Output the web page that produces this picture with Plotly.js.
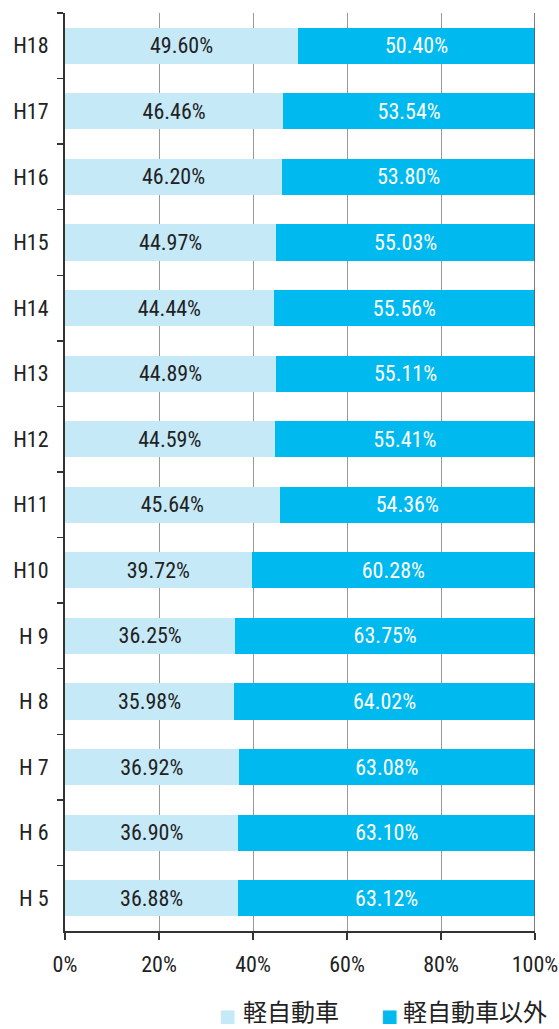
<!DOCTYPE html>
<html><head><meta charset="utf-8">
<script src="https://cdn.plot.ly/plotly-3.0.1.min.js"></script>
<style>html,body{margin:0;padding:0;background:#fff}#c{width:559px;height:1029px}</style>
</head><body><div id="c"></div>
<script>
const categories = ["H18","H17","H16","H15","H14","H13","H12","H11","H10","H 9","H 8","H 7","H 6","H 5"];
const keiValues = [49.60,46.46,46.20,44.97,44.44,44.89,44.59,45.64,39.72,36.25,35.98,36.92,36.90,36.88];
const otherValues = [50.40,53.54,53.80,55.03,55.56,55.11,55.41,54.36,60.28,63.75,64.02,63.08,63.10,63.12];
const seriesNames = ["軽自動車","軽自動車以外"];
const seriesColors = ["#c6e9f8","#00b9ef"];
const xTicks = [0,20,40,60,80,100];
const xTickLabels = ["0%","20%","40%","60%","80%","100%"];

const numFont = "Roboto Condensed, sans-serif";
const cjkFont = "Noto Sans CJK JP, sans-serif";

const traces = [
  {type:'bar', orientation:'h', name:seriesNames[0], y:categories, x:keiValues,
   marker:{color:seriesColors[0]}, width:0.55,
   texttemplate:'%{x:.2f}%', textposition:'inside', insidetextanchor:'middle',
   textfont:{family:numFont, size:22, color:'#222'}, hoverinfo:'none'},
  {type:'bar', orientation:'h', name:seriesNames[1], y:categories, x:otherValues,
   marker:{color:seriesColors[1]}, width:0.55,
   texttemplate:'%{x:.2f}%', textposition:'inside', insidetextanchor:'middle',
   textfont:{family:numFont, size:22, color:'#fff'}, hoverinfo:'none'}
];

// legend drawn as text annotations (symbol glyph + label)
const legendX = [[0.3468,0.3766],[0.6904,0.7164]];
const annotations = [];
seriesNames.forEach((n,i)=>{
  annotations.push({xref:'paper', yref:'paper', x:legendX[i][0], y:-0.0935, xanchor:'center', yanchor:'middle',
    text:'■', showarrow:false, borderpad:0, font:{family:cjkFont, size:17, color:seriesColors[i]}});
  annotations.push({xref:'paper', yref:'paper', x:legendX[i][1], y:-0.0868, xanchor:'left', yanchor:'middle',
    text:n, showarrow:false, borderpad:0, font:{family:cjkFont, size:24, color:'#222'}});
});

const layout = {
  width:559, height:1029, barmode:'stack',
  margin:{l:65, r:24, t:13, b:98},
  paper_bgcolor:'#fff', plot_bgcolor:'#fff',
  font:{family:numFont, size:22, color:'#222'},
  showlegend:false,
  annotations:annotations,
  xaxis:{range:[0,100], tickvals:xTicks, ticktext:xTickLabels, showgrid:true,
         gridcolor:'#999', gridwidth:1, showline:true, linecolor:'#333', linewidth:2,
         ticks:'outside', ticklen:7, tickcolor:'#333', tickwidth:1.5, zeroline:false,
         ticklabelstandoff:6, ticklabeloverflow:'allow',
         tickfont:{family:numFont, size:22, color:'#222'}, fixedrange:true},
  yaxis:{type:'category', autorange:'reversed', showline:true, linecolor:'#333', linewidth:2,
         ticks:'outside', tickson:'boundaries', ticklen:6, tickcolor:'#333', tickwidth:1.5,
         showgrid:false, ticklabelstandoff:10,
         tickfont:{family:numFont, size:22, color:'#222'}, fixedrange:true},
  shapes:[{type:'line', xref:'x', yref:'paper', x0:100, x1:100, y0:0, y1:1,
           line:{color:'#555', width:1.5}, layer:'above'}]
};
Plotly.newPlot('c', traces, layout, {displayModeBar:false, staticPlot:true});
</script></body></html>
